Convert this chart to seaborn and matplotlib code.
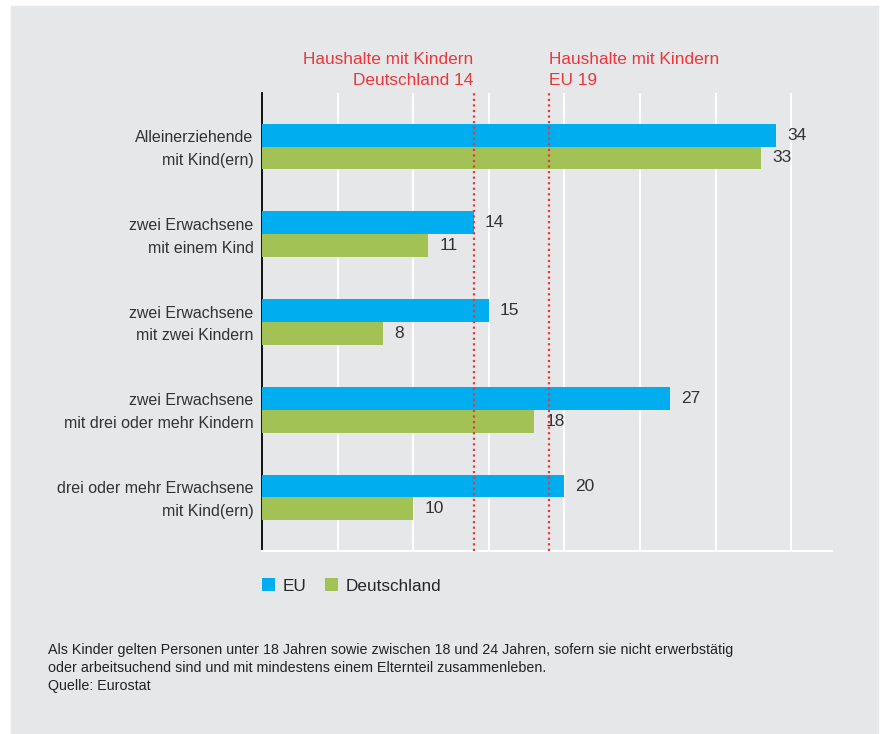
import matplotlib
matplotlib.use("Agg")
import matplotlib.pyplot as plt
import matplotlib.patches as mpatches
import matplotlib.transforms as mtransforms
import pandas as pd
import seaborn as sns

## Daten
kategorien = ["Alleinerziehende\nmit Kind(ern)",
              "zwei Erwachsene\nmit einem Kind",
              "zwei Erwachsene\nmit zwei Kindern",
              "zwei Erwachsene\nmit drei oder mehr Kindern",
              "drei oder mehr Erwachsene\nmit Kind(ern)"]
eu = [34, 14, 15, 27, 20]
deutschland = [33, 11, 8, 18, 10]
ref_deutschland = 14
ref_eu = 19

blau = "#00aeef"
gruen = "#a3c255"
rot = "#e8383d"
grau = "#e6e7e9"
text = "#333333"

df = pd.DataFrame({
    "Kategorie": kategorien * 2,
    "Wert": eu + deutschland,
    "Region": ["EU"] * len(eu) + ["Deutschland"] * len(deutschland),
})

sns.set_theme(style="white")
plt.rcParams["font.family"] = ["Liberation Sans", "DejaVu Sans"]

fig = plt.figure(figsize=(8.83, 7.34), dpi=100, facecolor="white")
# grauer Hintergrund
fig.patches.append(mpatches.Rectangle((11 / 883, 0), 867 / 883, 1 - 6 / 734,
                                      transform=fig.transFigure, color=grau, zorder=-10))
ax = fig.add_axes([262 / 883, 1 - 551 / 734, 570 / 883, 458 / 734])
ax.set_facecolor(grau)

sns.barplot(data=df, y="Kategorie", x="Wert", hue="Region", orient="h",
            palette={"EU": blau, "Deutschland": gruen}, width=0.52,
            saturation=1, linewidth=0, ax=ax, zorder=3)

for c in ax.containers:
    ax.bar_label(c, padding=8, fontsize=12.5, color=text)

ax.set_xlim(0, 37.7)
ax.set_ylim(4.61, -0.61)
ax.set_xticks(range(5, 40, 5))
ax.xaxis.grid(True, color="white", linewidth=1.5, zorder=1)
ax.tick_params(axis="x", length=0, labelbottom=False)
ax.tick_params(axis="y", length=0, pad=6, labelsize=11.5, labelcolor=text)
ax.set_xlabel("")
ax.set_ylabel("")
hoch = mtransforms.ScaledTranslation(0, 3 / 100, fig.dpi_scale_trans)
for lab in ax.get_yticklabels():
    lab.set_horizontalalignment("right")
    lab.set_linespacing(1.65)
    lab.set_transform(lab.get_transform() + hoch)
for s in ["top", "right"]:
    ax.spines[s].set_visible(False)
ax.spines["left"].set_color("black")
ax.spines["left"].set_linewidth(1.3)
ax.spines["bottom"].set_color("white")
ax.spines["bottom"].set_linewidth(1.5)

# Referenzlinien
ax.axvline(ref_deutschland, color=rot, linestyle=(0, (1, 1.5)), linewidth=1.6, zorder=4)
ax.axvline(ref_eu, color=rot, linestyle=(0, (1, 1.5)), linewidth=1.6, zorder=4)
ax.text(ref_deutschland, -0.67, "Haushalte mit Kindern\nDeutschland " + str(ref_deutschland),
        color=rot, fontsize=12.4, ha="right", va="bottom", linespacing=1.5)
ax.text(ref_eu, -0.67, "Haushalte mit Kindern\nEU " + str(ref_eu),
        color=rot, fontsize=12.4, ha="left", va="bottom", linespacing=1.5)

ax.legend(loc="upper left", bbox_to_anchor=(0.0, -0.06), ncol=2, frameon=False,
          handlelength=0.75, handleheight=0.75, handletextpad=0.45, columnspacing=1.1,
          fontsize=12.3, borderpad=0, borderaxespad=0)

fig.text(48 / 883, 1 - 643 / 734,
         "Als Kinder gelten Personen unter 18 Jahren sowie zwischen 18 und 24 Jahren, sofern sie nicht erwerbstätig\n"
         "oder arbeitsuchend sind und mit mindestens einem Elternteil zusammenleben.\n"
         "Quelle: Eurostat",
         fontsize=10.3, color="#222222", va="top", linespacing=1.36)

fig.savefig("out.png", dpi=100, facecolor=fig.get_facecolor())
